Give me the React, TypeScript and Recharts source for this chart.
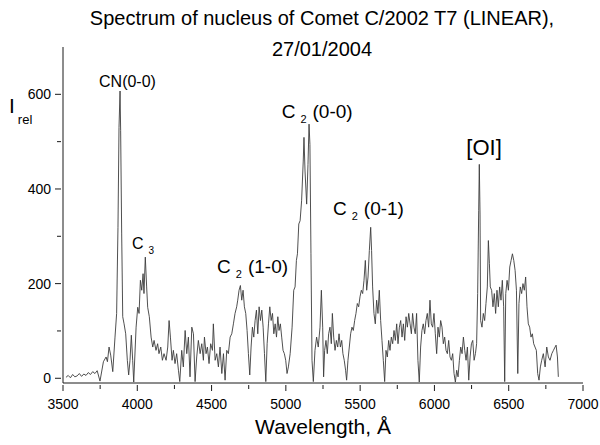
import React from "react";
import { LineChart, Line, XAxis, YAxis, ReferenceDot } from "recharts";

// Spectrum samples: [wavelength (Å), relative intensity]
const blueRegion: [number, number][] = [
  [3520, 2], [3535, 6], [3550, 1], [3565, 8], [3580, 3], [3595, 5], [3610, 10], [3625, 4],
  [3640, 9], [3655, 6], [3670, 12], [3685, 8], [3700, 14], [3715, 10], [3730, 16], [3749, -6],
  [3772, 35], [3790, 45], [3799, 35], [3810, 66], [3821, 49], [3835, 14], [3850, 87], [3861, 137],
  [3870, 319], [3877, 530], [3884, 607], [3888, 523], [3895, 305], [3902, 130], [3911, 115], [3922, 94],
  [3933, 38], [3942, 7], [3951, 38], [3960, 91], [3969, 38], [3976, -8], [3992, 108], [4003, 150],
  [4012, 137], [4021, 207], [4030, 186], [4039, 221], [4045, 179], [4054, 256], [4063, 193], [4070, 150],
  [4081, 130], [4093, 87], [4104, 66], [4113, 80], [4126, 59], [4137, 73], [4146, 52], [4158, 66],
  [4169, 38], [4180, 52], [4194, 38], [4205, 66], [4214, 122], [4223, 87], [4234, 38], [4243, 59],
  [4254, 31], [4265, 52], [4277, 17], [4286, -7],
];

const greenRegion: [number, number][] = [
  [4299, 59], [4310, 24], [4322, 101], [4333, 52], [4344, 87], [4355, 3], [4367, 108], [4378, 94],
  [4389, -7], [4400, 45], [4411, 80], [4423, 52], [4434, 73], [4445, 38], [4452, 87], [4463, 52],
  [4472, 66], [4483, 31], [4494, 73], [4506, 59], [4512, 115], [4524, 38], [4535, 52], [4546, 24],
  [4557, 66], [4569, 10], [4580, 52], [4591, -4], [4602, 59], [4613, 52], [4625, 87], [4636, 94],
  [4647, 115], [4658, 137], [4669, 151], [4676, 165], [4685, 186], [4694, 196], [4703, 165], [4712, 186],
  [4721, 151], [4730, 137], [4739, 101], [4748, 52], [4757, 7], [4766, 66], [4775, 108], [4784, 87],
  [4793, 122], [4802, 144], [4811, 94], [4820, 151], [4829, 122], [4838, 144], [4847, 108], [4856, 52],
  [4865, -7], [4874, 73], [4883, 115], [4892, 151], [4901, 122], [4910, 137], [4919, 94], [4928, 115],
  [4937, 87], [4946, 130], [4954, 101], [4963, 115], [4972, 87], [4981, 59], [4990, 52], [4999, 38],
  [5008, 10], [5017, 24], [5029, 52], [5042, 108], [5053, 186], [5062, 193], [5071, 249], [5078, 263],
  [5087, 326],
];

const yellowRegion: [number, number][] = [
  [5096, 333], [5106, 375], [5117, 459], [5122, 509], [5129, 438], [5140, 368], [5149, 452], [5156, 537],
  [5162, 494], [5169, 263], [5176, 38], [5185, -7], [5196, 59], [5207, 87], [5218, 66], [5230, 108],
  [5239, 186], [5248, 108], [5254, 3], [5261, 59], [5270, 80], [5279, 52], [5288, 94], [5297, 108],
  [5306, 73], [5313, 137], [5322, 87], [5331, 59], [5340, 80], [5349, 66], [5358, 94], [5367, 66],
  [5376, 80], [5384, 52], [5393, 38], [5402, 17], [5409, -4], [5418, 38], [5427, 66], [5436, 94],
  [5445, 108], [5454, 101], [5463, 122], [5472, 137], [5481, 158], [5490, 151], [5499, 172], [5508, 186],
  [5517, 179], [5526, 207], [5535, 249], [5544, 186], [5553, 214], [5562, 270], [5571, 319], [5577, 270],
  [5584, 193], [5593, 137], [5602, 115], [5611, 165], [5620, 137], [5629, 186], [5638, 122], [5647, 80],
  [5656, 38], [5665, -7], [5674, 59], [5683, 45], [5692, 80], [5701, 59], [5710, 87], [5719, 73],
  [5728, 101], [5737, 80], [5746, 115], [5755, 73], [5764, 108], [5773, 122], [5782, 87], [5791, 115],
  [5800, 80], [5809, 130], [5818, 108], [5827, 137], [5836, 115], [5845, 94], [5853, 137], [5862, 108],
  [5871, 94], [5880, 137], [5889, 38], [5898, -8],
];

const redRegion: [number, number][] = [
  [5907, 66], [5916, 101], [5925, 115], [5934, 94], [5943, 122], [5952, 137], [5961, 108], [5970, 165],
  [5979, 115], [5988, 108], [5997, 137], [6006, 94], [6015, 52], [6024, 108], [6033, 87], [6042, 122],
  [6051, 108], [6060, 73], [6069, 87], [6078, 59], [6087, 52], [6096, 80], [6105, 45], [6114, 38],
  [6123, 52], [6132, 10], [6141, -8], [6150, 17], [6159, 3], [6168, 38], [6177, 66], [6186, 52],
  [6195, 87], [6204, 59], [6213, 38], [6222, 66], [6231, -4], [6240, 45], [6249, 73], [6258, 80],
  [6267, 38], [6276, 52], [6284, 73], [6291, 179], [6298, 354], [6302, 452], [6307, 347], [6311, 122],
  [6320, 108], [6329, 137], [6338, 122], [6347, 158], [6356, 193], [6363, 291], [6370, 242], [6376, 193],
  [6385, 186], [6394, 151], [6403, 179], [6412, 137], [6421, 186], [6430, 151], [6439, 193], [6448, 165],
  [6457, 207], [6466, 151], [6473, -7], [6480, 179], [6489, 207], [6498, 186], [6507, 235], [6516, 249],
  [6525, 263], [6534, 249], [6543, 228], [6552, 186], [6561, 10], [6569, 158], [6578, 193], [6587, 179],
  [6596, 200], [6605, 186], [6614, 214], [6623, 151], [6632, 115], [6641, 108], [6650, 87], [6659, 94],
  [6668, 73], [6677, 66], [6686, 59], [6695, 10], [6704, -4], [6713, 24], [6722, 38], [6733, 52],
  [6745, 24], [6756, 66], [6767, 45], [6778, 38], [6790, 52], [6801, 59], [6812, 66], [6819, 70],
  [6828, 45], [6834, 3],
];

const xTicks = [3500, 3750, 4000, 4250, 4500, 4750, 5000, 5250, 5500, 5750, 6000, 6250, 6500, 6750, 7000];
const xLabelled = [3500, 4000, 4500, 5000, 5500, 6000, 6500, 7000];
const yTicks = [0, 100, 200, 300, 400, 500, 600];
const yLabelled = [0, 200, 400, 600];

// Line annotations: text, subscript, trailing text, anchor wavelength, anchor intensity
const annotationText = ["CN(0-0)", "C", "C", "C", "C", "[OI]"];
const annotationSub = ["", "3", "2", "2", "2", ""];
const annotationRest = ["", "", "(1-0)", "(0-0)", "(0-1)", ""];
const annotationWavelength = [3934, 3964, 4537, 4972, 5317, 6334];
const annotationIntensity = [615, 274, 222, 550, 346, 472];

const data = [...blueRegion, ...greenRegion, ...yellowRegion, ...redRegion].map(([w, v]) => ({ w, v }));

const FONT = "Arial, 'Liberation Sans', Helvetica, sans-serif";
const INK = "#1a1a1a";

const XTick = (props: any) => {
  const { x, y, payload } = props;
  const major = xLabelled.includes(payload.value);
  return (
    <g>
      <line x1={x} y1={y} x2={x} y2={y + (major ? 6 : 4)} stroke={INK} strokeWidth={1} />
      {major && (
        <text x={x} y={y + 24} textAnchor="middle" fontSize={14} fontFamily={FONT} fill="#000">
          {payload.value}
        </text>
      )}
    </g>
  );
};

const YTick = (props: any) => {
  const { x, y, payload } = props;
  const major = yLabelled.includes(payload.value);
  return (
    <g>
      <line x1={x} y1={y} x2={x - (major ? 6 : 4)} y2={y} stroke={INK} strokeWidth={1} />
      {major && (
        <text x={x - 10} y={y + 5} textAnchor="end" fontSize={14} fontFamily={FONT} fill="#000">
          {payload.value}
        </text>
      )}
    </g>
  );
};

const annotationStyle = [
  { size: 16, subSize: 10, anchor: "middle" },
  { size: 16, subSize: 10, anchor: "start" },
  { size: 19, subSize: 11, anchor: "start" },
  { size: 19, subSize: 11, anchor: "start" },
  { size: 19, subSize: 11, anchor: "start" },
  { size: 22, subSize: 11, anchor: "middle" },
];

const makeAnnotationShape = (i: number) => (props: any) => {
  const { cx, cy } = props;
  const st = annotationStyle[i];
  return (
    <text x={cx} y={cy} fontSize={st.size} fontFamily={FONT} fill="#000" textAnchor={st.anchor as any}>
      {annotationText[i]}
      {annotationSub[i] && (
        <tspan fontSize={st.subSize} dx={5} dy={5}>
          {annotationSub[i]}
        </tspan>
      )}
      {annotationRest[i] && (
        <tspan fontSize={st.size} dx={6} dy={-5}>
          {annotationRest[i]}
        </tspan>
      )}
    </text>
  );
};

export default function App() {
  return (
    <div style={{ position: "relative", width: 600, height: 445, background: "#fff", fontFamily: FONT }}>
      <style>{`body{margin:0;background:#fff}`}</style>
      <LineChart width={600} height={445} data={data} margin={{ top: 47, right: 17, left: 0, bottom: 0 }}>
        <XAxis
          dataKey="w"
          type="number"
          domain={[3500, 7000]}
          ticks={xTicks}
          interval={0}
          height={62}
          tickSize={0}
          tickLine={false}
          tick={<XTick />}
          axisLine={{ stroke: INK, strokeWidth: 1 }}
        />
        <YAxis
          type="number"
          domain={[-10, 700]}
          allowDataOverflow
          ticks={yTicks}
          interval={0}
          width={63}
          tickSize={0}
          tickLine={false}
          tick={<YTick />}
          axisLine={{ stroke: INK, strokeWidth: 1 }}
        />
        <Line
          dataKey="v"
          type="linear"
          dot={false}
          stroke="#3c3c3c"
          strokeWidth={0.9}
          isAnimationActive={false}
        />
        {annotationText.map((t, i) => (
          <ReferenceDot
            key={t + i}
            x={annotationWavelength[i]}
            y={annotationIntensity[i]}
            r={0}
            ifOverflow="visible"
            shape={makeAnnotationShape(i)}
          />
        ))}
      </LineChart>
      <div
        style={{
          position: "absolute",
          left: 22,
          top: 3,
          width: 600,
          textAlign: "center",
          fontSize: 20,
          lineHeight: "31px",
          color: "#000",
        }}
      >
        Spectrum of nucleus of Comet C/2002 T7 (LINEAR),
        <br />
        27/01/2004
      </div>
      <div
        style={{
          position: "absolute",
          left: 9,
          top: 95,
          fontSize: 21,
          lineHeight: "21px",
          color: "#000",
          whiteSpace: "nowrap",
        }}
      >
        I<span style={{ fontSize: 13, position: "relative", top: 11, left: 3 }}>rel</span>
      </div>
      <div
        style={{
          position: "absolute",
          left: 23,
          top: 414,
          width: 600,
          textAlign: "center",
          fontSize: 21,
          lineHeight: "25px",
          color: "#000",
        }}
      >
        Wavelength, Å
      </div>
    </div>
  );
}
